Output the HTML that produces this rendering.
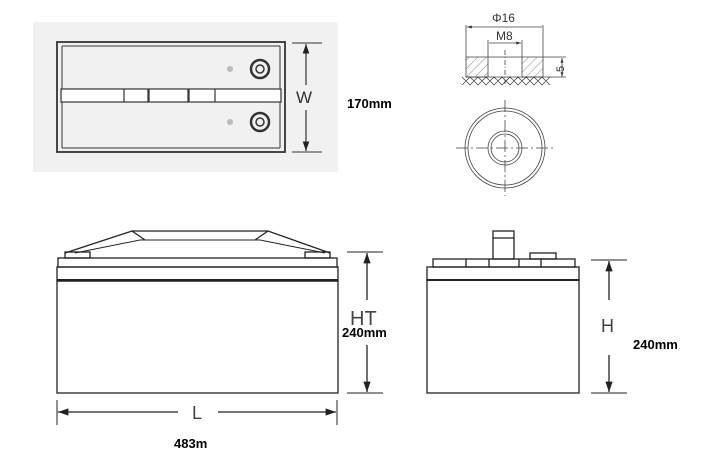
<!DOCTYPE html>
<html><head><style>body{margin:0;background:#fff}svg{display:block}</style></head><body>
<svg width="717" height="476" viewBox="0 0 717 476" xmlns="http://www.w3.org/2000/svg" font-family="Liberation Sans, sans-serif">
<defs>
<marker id="a" viewBox="0 0 10 10" refX="10" refY="5" markerWidth="8" markerHeight="8" orient="auto"><path d="M0,1.5L10,5L0,8.5z" fill="#222"/></marker>
<marker id="s" viewBox="0 0 10 10" refX="10" refY="5" markerWidth="6" markerHeight="6" orient="auto-start-reverse"><path d="M0,2L10,5L0,8z" fill="#333"/></marker>
<pattern id="h" width="6" height="6" patternUnits="userSpaceOnUse" patternTransform="rotate(45)"><line x1="0" y1="0" x2="0" y2="6" stroke="#666" stroke-width="0.8"/></pattern>
</defs>
<rect x="33" y="22" width="305" height="150" fill="#f1f1f1"/>
<g fill="none" stroke="#333">
<rect x="57" y="42" width="228" height="110" stroke-width="1.8"/>
<path d="M62,46V89M62,102V148M280,46V89M280,102V148M62,46H280M62,148H280" stroke-width="1"/>
<rect x="61" y="89" width="220" height="13" stroke-width="1.2" fill="#fff"/>
<path d="M124,89V102M148,89V102M149,89V102M188,89V102M189,89V102M215,89V102" stroke-width="1.2"/>
<circle cx="260" cy="69" r="9" stroke-width="2.5"/><circle cx="260" cy="69" r="4" stroke-width="1.5"/>
<circle cx="260" cy="122" r="9" stroke-width="2.5"/><circle cx="260" cy="122" r="4" stroke-width="1.5"/>
<path d="M292,43H322M292,152H322" stroke-width="1"/>
<path d="M306,85V44" stroke-width="1.2" marker-end="url(#a)"/>
<path d="M306,110V151" stroke-width="1.2" marker-end="url(#a)"/>
</g>
<circle cx="230" cy="69" r="3" fill="#bbb"/><circle cx="230" cy="122" r="3" fill="#bbb"/>
<text x="296" y="103" font-size="17" fill="#333">W</text>
<text x="347" y="108" font-size="13" font-weight="bold">170mm</text>
<g fill="none" stroke="#444" stroke-width="0.8">
<path d="M466,25V57M543,25V57M488,40V57M522,40V57"/>
<path d="M467,27H542M489,43H521" marker-start="url(#s)" marker-end="url(#s)"/>
<path d="M466,57H488V77H466zM522,57H543V77H522z" fill="url(#h)"/>
<path d="M488,57H522M466,77H543"/>
<path d="M505,50V84" stroke-dasharray="5,2,1,2"/>
<path d="M462,77L470,85M470,77L462,85M470,77L478,85M478,77L470,85M478,77L486,85M486,77L478,85M486,77L494,85M494,77L486,85M494,77L502,85M502,77L494,85M502,77L510,85M510,77L502,85M510,77L518,85M518,77L510,85M518,77L526,85M526,77L518,85M526,77L534,85M534,77L526,85M534,77L542,85M542,77L534,85M542,77L550,85M550,77L542,85"/>
<path d="M543,57H566M543,77H566"/>
<path d="M562,58V77" marker-start="url(#s)" marker-end="url(#s)"/>
<circle cx="505" cy="148" r="40"/><circle cx="505" cy="148" r="37"/>
<circle cx="505" cy="148" r="17"/><circle cx="505" cy="148" r="14"/>
<path d="M456,148H554M505,100V196" stroke-dasharray="12,3,2,3"/>
</g>
<text x="492" y="22" font-size="12" fill="#333">Φ16</text>
<text x="496" y="40" font-size="12" fill="#333">M8</text>
<text x="555" y="73" font-size="11" fill="#333" transform="rotate(-90 559 68)">5</text>
<g fill="none" stroke="#222" stroke-width="1.3">
<path d="M65,253L132,231H268L330,253"/>
<path d="M75,253L140,240H260L325,253" stroke-width="1"/>
<path d="M132,231L145,240M268,231L255,240"/>
<rect x="65" y="252" width="25" height="6"/><rect x="305" y="252" width="25" height="6"/>
<rect x="58" y="258" width="279" height="9"/>
<rect x="57" y="267" width="281" height="14"/>
<path d="M57,280H338" stroke-width="2"/>
<rect x="57" y="281" width="281" height="112"/>
<path d="M347,252H383M347,393H383" stroke-width="1"/>
<path d="M367,300V253" marker-end="url(#a)"/>
<path d="M367,345V392" marker-end="url(#a)"/>
<path d="M57,400V425M337,400V425" stroke-width="1"/>
<path d="M178,412H58" marker-end="url(#a)"/>
<path d="M218,412H336" marker-end="url(#a)"/>
</g>
<text x="350" y="325" font-size="20" fill="#444">HT</text>
<text x="342" y="337" font-size="13" font-weight="bold">240mm</text>
<text x="192" y="419" font-size="18" fill="#444">L</text>
<text x="174" y="448" font-size="13" font-weight="bold">483m</text>
<g fill="none" stroke="#222" stroke-width="1.3">
<rect x="493" y="231" width="21" height="28"/><path d="M493,238H514"/>
<rect x="530" y="253" width="26" height="6"/>
<rect x="433" y="259" width="142" height="8"/>
<path d="M466,259V267M489,259V267M519,259V267M541,259V267"/>
<rect x="427" y="267" width="152" height="13"/>
<path d="M427,280H579" stroke-width="2"/>
<rect x="427" y="280" width="152" height="113"/>
<path d="M591,260H627M591,393H627" stroke-width="1"/>
<path d="M609,300V261" marker-end="url(#a)"/>
<path d="M609,355V392" marker-end="url(#a)"/>
</g>
<text x="601" y="332" font-size="18" fill="#444">H</text>
<text x="633" y="349" font-size="13" font-weight="bold">240mm</text>
</svg>
</body></html>
